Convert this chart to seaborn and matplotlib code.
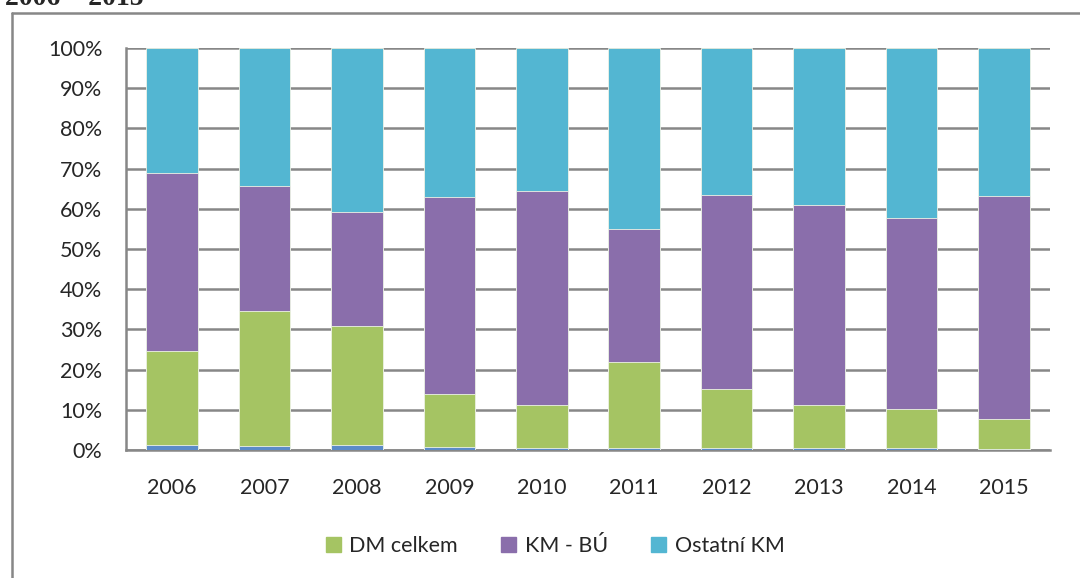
import numpy as np
import pandas as pd
import matplotlib
matplotlib.use("Agg")
import matplotlib.pyplot as plt
from matplotlib.patches import Patch
from matplotlib.lines import Line2D
import seaborn as sns

# hodnoty v % (podily jednotlivych slozek)
roky = ["2006", "2007", "2008", "2009", "2010", "2011", "2012", "2013", "2014", "2015"]
spodni = [1.2, 1.0, 1.2, 0.8, 0.6, 0.6, 0.5, 0.4, 0.4, 0.3]
dm_celkem = [23.5, 33.6, 29.6, 13.1, 10.6, 21.3, 14.7, 10.8, 9.8, 7.4]
km_bu = [44.2, 31.1, 28.4, 49.0, 53.2, 33.1, 48.2, 49.7, 47.5, 55.5]
ostatni_km = [31.1, 34.3, 40.8, 37.1, 35.6, 45.0, 36.6, 39.1, 42.3, 36.8]

df = pd.DataFrame({"rok": roky, "spodni": spodni, "dm": dm_celkem,
                   "km": km_bu, "ost": ostatni_km})
# kumulativni soucty pro skladane sloupce
df["c1"] = df["spodni"]
df["c2"] = df["c1"] + df["dm"]
df["c3"] = df["c2"] + df["km"]
df["c4"] = df["c3"] + df["ost"]

c_blue = "#5B8BC8"
c_green = "#A5C463"
c_purple = "#8A6EAB"
c_cyan = "#53B6D2"

sns.set_style("white")
plt.rcParams["font.family"] = ["Lato", "DejaVu Sans"]

fig = plt.figure(figsize=(10.8, 5.78), dpi=100)
ax = fig.add_axes([126 / 1080, 1 - 450 / 578, 924 / 1080, 402 / 578])

for col, barva in [("c4", c_cyan), ("c3", c_purple), ("c2", c_green), ("c1", c_blue)]:
    sns.barplot(data=df, x="rok", y=col, color=barva, width=0.56,
                saturation=1, ax=ax, zorder=3, linewidth=0.6, edgecolor="#eef3e6")

ax.set_ylim(0, 100)
ax.set_xlim(-0.5, 9.5)
ax.set_yticks(np.arange(0, 101, 10))
ax.set_yticklabels([f"{v}%" for v in range(0, 101, 10)])
ax.set_xlabel("")
ax.set_ylabel("")
ax.yaxis.grid(True, color="#878787", linewidth=1.8, zorder=0)
ax.set_axisbelow(True)
ax.tick_params(axis="both", length=0, labelsize=15.5, colors="#262626")
ax.tick_params(axis="y", pad=17)
ax.tick_params(axis="x", pad=20)
for s in ["top", "right"]:
    ax.spines[s].set_visible(False)
for s in ["left", "bottom"]:
    ax.spines[s].set_color("#878787")
    ax.spines[s].set_linewidth(1.8)

# legenda
handles = [Patch(color=c_green, label="DM celkem"),
           Patch(color=c_purple, label="KM - BÚ"),
           Patch(color=c_cyan, label="Ostatní KM")]
fig.legend(handles=handles, loc="center", bbox_to_anchor=(555 / 1080, 1 - 546 / 578),
           ncol=3, frameon=False, fontsize=15.5, handlelength=0.7, handleheight=0.7,
           handletextpad=0.4, columnspacing=2.0)

# ramecek grafu
fig.add_artist(Line2D([12 / 1080, 12 / 1080], [0, 1 - 13 / 578], color="#878787", linewidth=1.8))
fig.add_artist(Line2D([12 / 1080, 1], [1 - 13 / 578, 1 - 13 / 578], color="#878787", linewidth=1.8))

# oriznuty nadpis nahore
fig.text(5 / 1080, 1 - 5 / 578, "2006 – 2015", fontsize=20, fontweight="bold",
         family=["Liberation Serif", "DejaVu Serif"], va="baseline", ha="left")

fig.savefig("out.png", dpi=100)
